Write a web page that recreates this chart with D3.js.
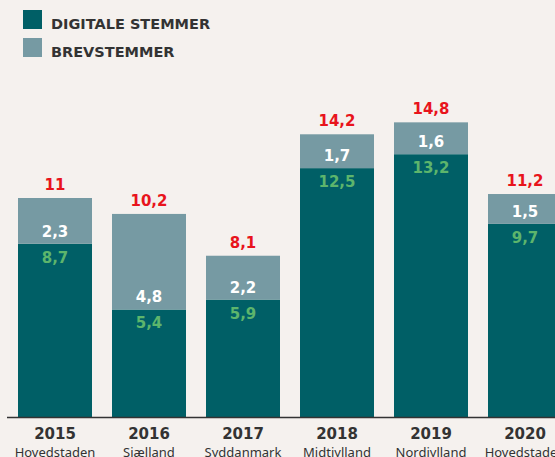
<!DOCTYPE html>
<html>
<head>
<meta charset="utf-8">
<script src="https://cdn.jsdelivr.net/npm/d3@7"></script>
<style>
  html, body { margin: 0; padding: 0; background: #f5f1ee; }
  svg { display: block; }
</style>
</head>
<body>
<svg id="chart" width="555" height="457"></svg>
<script>
const years = ["2015", "2016", "2017", "2018", "2019", "2020"];
const regions = ["Hovedstaden", "Sjælland", "Syddanmark", "Midtjylland", "Nordjylland", "Hovedstaden"];
const digital = [8.7, 5.4, 5.9, 12.5, 13.2, 9.7];
const brev = [2.3, 4.8, 2.2, 1.7, 1.6, 1.5];
const totals = [11, 10.2, 8.1, 14.2, 14.8, 11.2];
const seriesNames = ["DIGITALE STEMMER", "BREVSTEMMER"];

const colors = { digital: "#005f66", brev: "#769aa3", total: "#e8141c", digLabel: "#5db56c", text: "#333333" };
const fmt = v => String(v).replace(".", ",");

const svg = d3.select("#chart");
const baseY = 417;

const y = d3.scaleLinear().domain([0, 11]).range([baseY, 198]);
const xs = d3.scaleBand().domain(years).range([8, 572])
  .paddingInner(20 / 94).paddingOuter(10 / 94);

const bandX = d => xs(d);
const bw = xs.bandwidth();

const g = svg.append("g");

g.selectAll("rect.dig").data(years).join("rect")
  .attr("class", "dig")
  .attr("x", d => bandX(d))
  .attr("width", bw)
  .attr("y", (d, i) => y(digital[i]))
  .attr("height", (d, i) => baseY - y(digital[i]))
  .attr("fill", colors.digital);

g.selectAll("rect.brev").data(years).join("rect")
  .attr("class", "brev")
  .attr("x", d => bandX(d))
  .attr("width", bw)
  .attr("y", (d, i) => y(digital[i] + brev[i]))
  .attr("height", (d, i) => y(digital[i]) - y(digital[i] + brev[i]))
  .attr("fill", colors.brev);

const labelFont = "'DejaVu Sans', sans-serif";

g.selectAll("text.tot").data(years).join("text")
  .attr("x", d => bandX(d) + bw / 2)
  .attr("y", (d, i) => y(digital[i] + brev[i]) - 8)
  .attr("text-anchor", "middle")
  .attr("font-family", labelFont).attr("font-weight", "bold").attr("font-size", 15)
  .attr("fill", colors.total)
  .text((d, i) => fmt(totals[i]));

g.selectAll("text.brevl").data(years).join("text")
  .attr("x", d => bandX(d) + bw / 2)
  .attr("y", (d, i) => y(digital[i]) - 7)
  .attr("text-anchor", "middle")
  .attr("font-family", labelFont).attr("font-weight", "bold").attr("font-size", 15)
  .attr("fill", "#ffffff")
  .text((d, i) => fmt(brev[i]));

g.selectAll("text.digl").data(years).join("text")
  .attr("x", d => bandX(d) + bw / 2)
  .attr("y", (d, i) => y(digital[i]) + 19)
  .attr("text-anchor", "middle")
  .attr("font-family", labelFont).attr("font-weight", "bold").attr("font-size", 15)
  .attr("fill", colors.digLabel)
  .text((d, i) => fmt(digital[i]));

svg.append("line")
  .attr("x1", 7).attr("x2", 555)
  .attr("y1", baseY + 0.5).attr("y2", baseY + 0.5)
  .attr("stroke", "#333").attr("stroke-width", 1.5);

g.selectAll("text.yr").data(years).join("text")
  .attr("x", d => bandX(d) + bw / 2)
  .attr("y", 439)
  .attr("text-anchor", "middle")
  .attr("font-family", labelFont).attr("font-weight", "bold").attr("font-size", 15)
  .attr("fill", colors.text)
  .text(d => d);

g.selectAll("text.rg").data(years).join("text")
  .attr("x", d => bandX(d) + bw / 2)
  .attr("y", 457)
  .attr("text-anchor", "middle")
  .attr("font-family", "'Noto Sans', sans-serif").attr("font-size", 13)
  .attr("fill", colors.text)
  .text((d, i) => regions[i]);

const leg = svg.append("g");
const legColors = [colors.digital, colors.brev];
seriesNames.forEach((name, i) => {
  leg.append("rect").attr("x", 23).attr("y", 10 + i * 28).attr("width", 19).attr("height", 19).attr("fill", legColors[i]);
  leg.append("text").attr("x", 51).attr("y", 29 + i * 28)
    .attr("font-family", labelFont).attr("font-weight", "bold").attr("font-size", 14.5)
    .attr("fill", colors.text).text(name);
});
</script>
</body>
</html>
